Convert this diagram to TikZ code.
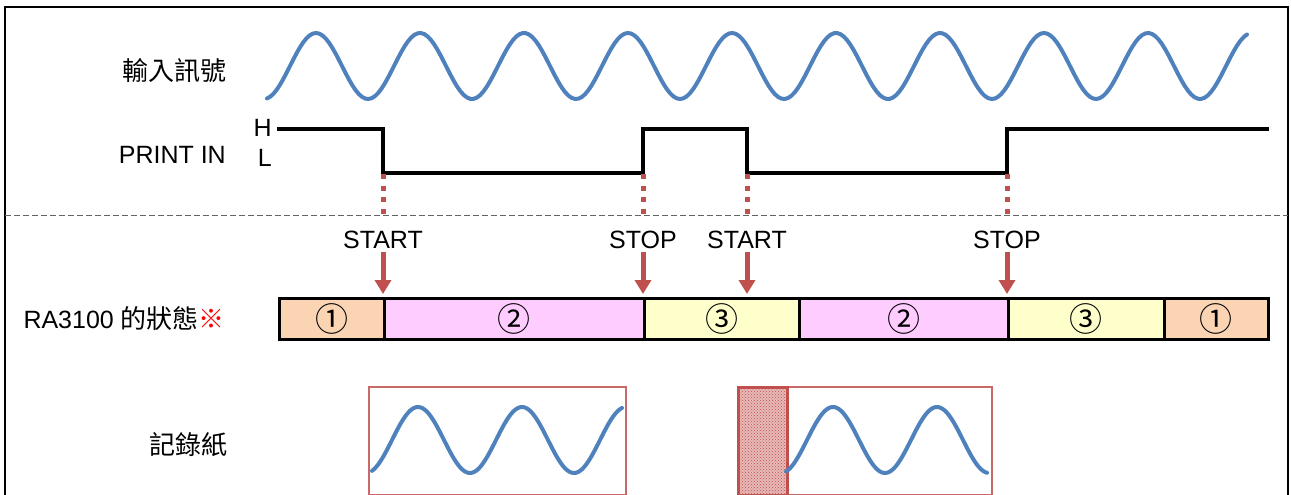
\documentclass[tikz,border=0pt]{standalone}
\usepackage{fontspec}
\setmainfont{Liberation Sans}
\newfontfamily\cjk{Noto Sans CJK TC}
\usetikzlibrary{arrows.meta,patterns}
\definecolor{wavec}{RGB}{79,129,189}
\definecolor{redc}{RGB}{192,80,77}
\definecolor{peach}{RGB}{251,212,180}
\definecolor{pinkc}{RGB}{255,204,255}
\definecolor{yellowc}{RGB}{255,255,204}
\definecolor{dgray}{RGB}{100,100,100}
\begin{document}
\begin{tikzpicture}[x=1pt,y=-1pt,
  lab/.style={font=\fontsize{25}{30}\selectfont, inner sep=0pt},
  cjklab/.style={font=\cjk\fontsize{26}{30}\selectfont, inner sep=0pt, anchor=east},
  sig/.style={line width=3.5pt, line join=miter, line cap=rect},
  wave/.style={draw=wavec, line width=4pt, line cap=round},
  dotr/.style={draw=redc, line width=5pt, dash pattern=on 5pt off 6.5pt},
  redarr/.style={draw=redc, line width=5pt, -{Triangle[width=16pt,length=14pt]}},
  seg/.style={draw=black, line width=2.5pt, inner sep=0pt, minimum height=41pt, anchor=north west, font=\cjk\fontsize{33}{36}\selectfont},
  paper/.style={draw=redc!85, line width=1.5pt, inner sep=0pt, minimum height=108pt, anchor=north west},
  hatchbox/.style={draw=redc, line width=3pt, inner sep=0pt, minimum height=108pt, anchor=north west,
     preaction={fill=redc!40}, pattern=crosshatch dots, pattern color=redc},
  frame/.style={line width=2.5pt},
  sep/.style={draw=dgray, line width=1.5pt, dash pattern=on 6pt off 3pt}
]
\useasboundingbox (0,0) rectangle (1291,495);

% outer frame
\draw[frame] (5,496) -- (5,7) -- (1288,7) -- (1288,496);
% separator
\coordinate (sepL) at (5,215.5);
\coordinate (sepR) at (1288,215.5);
\draw[sep] (sepL) -- (sepR);

% left labels
\node[cjklab] (lin) at (227,71) {輸入訊號};
\node[lab, anchor=base east] (lpi) at (226,163) {PRINT IN};
\node[lab, anchor=base east] (lH) at (272,136) {H};
\node[lab, anchor=base east] (lL) at (272,166) {L};
\node[lab, anchor=base east] (lra) at (225,328) {RA3100 {\cjk\fontsize{26}{30}\selectfont 的狀態\textcolor{red}{※}}};
\node[cjklab] (lrec) at (228,445) {記錄紙};

% input signal
\draw[wave] plot[domain=267:1247, samples=300] (\x, {66-33*cos((\x-316)/104*360)});

% PRINT IN signal
\coordinate (a0) at (279,129);
\coordinate (e1h) at (383,129); \coordinate (e1) at (383,173);
\coordinate (e2) at (643,173);  \coordinate (e2h) at (643,129);
\coordinate (e3h) at (747,129); \coordinate (e3) at (747,173);
\coordinate (e4) at (1007,173); \coordinate (e4h) at (1007,129);
\coordinate (a9) at (1267,129);
\draw[sig] (a0) -- (e1h) -- (e1) -- (e2) -- (e2h) -- (e3h) -- (e3) -- (e4) -- (e4h) -- (a9);

% dotted drops
\foreach \e in {e1,e2,e3,e4}{
  \draw[dotr] ([yshift=-1pt]\e) -- (\e |- sepL);
}

% state bar
\node[seg, fill=peach,   minimum width=105pt] (s1) at (278,297) {①};
\node[seg, fill=pinkc,   minimum width=260pt] (s2) at (383,297) {②};
\node[seg, fill=yellowc, minimum width=155pt] (s3) at (643,297) {③};
\node[seg, fill=pinkc,   minimum width=209pt] (s4) at (798,297) {②};
\node[seg, fill=yellowc, minimum width=156pt] (s5) at (1007,297) {③};
\node[seg, fill=peach,   minimum width=104pt] (s6) at (1163,297) {①};

% START / STOP labels and arrows
\node[lab, anchor=base] (t1) at (383,248) {START};
\node[lab, anchor=base] (t2) at (643,248) {STOP};
\node[lab, anchor=base] (t3) at (747,248) {START};
\node[lab, anchor=base] (t4) at (1007,248) {STOP};
\draw[redarr] ([yshift=-4pt]t1.south) -- ([yshift=3pt]s2.north west);
\draw[redarr] ([yshift=-4pt]t2.south) -- ([yshift=3pt]s3.north west);
\draw[redarr] ([yshift=-4pt]t3.south) -- ([yshift=3pt]t3.south |- s3.north);
\draw[redarr] ([yshift=-4pt]t4.south) -- ([yshift=3pt]s5.north west);

% recording paper
\node[paper, minimum width=257pt] (p1) at (368,386) {};
\draw[wave] plot[domain=372:622, samples=120] (\x, {440-33*cos((\x-418)/104*360)});
\node[paper, minimum width=254pt] (p2) at (737,386) {};
\node[hatchbox, minimum width=49pt] (p2h) at (737,386) {};
\draw[wave] plot[domain=786:987, samples=100] (\x, {440-33*cos((\x-833)/104*360)});
\end{tikzpicture}
\end{document}
